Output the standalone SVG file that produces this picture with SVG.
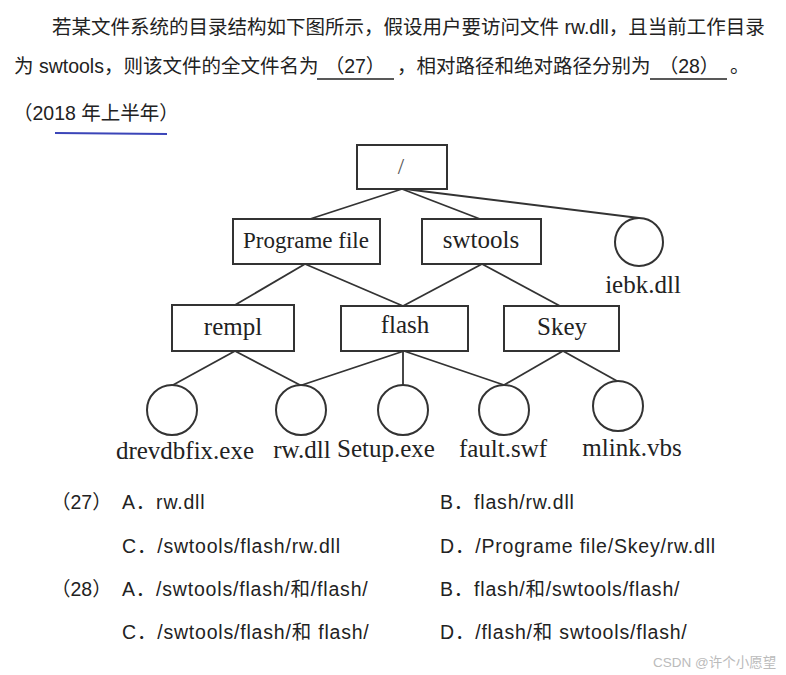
<svg xmlns="http://www.w3.org/2000/svg" width="786" height="675" viewBox="0 0 786 675">
  <style>
    .q { font-family: "Liberation Sans", "Noto Sans CJK SC", sans-serif; font-size: 19.5px; fill: #222; }
    .opt { font-family: "Liberation Sans", "Noto Sans CJK SC", sans-serif; font-size: 19.5px; fill: #222; letter-spacing: 0.8px; }
    .box { fill: #fff; stroke: #333; stroke-width: 2; }
    .leaf { fill: #fff; stroke: #333; stroke-width: 2; }
    .lbl { font-family: "Liberation Serif", "Times New Roman", serif; font-size: 25px; fill: #222; text-anchor: middle; }
    .conn line { stroke: #333; stroke-width: 1.8; }
    .ul { stroke: #222; stroke-width: 1.5; }
  </style>
  <rect width="786" height="675" fill="#fff"/>

  <!-- Question text -->
  <text class="q" x="52" y="34">若某文件系统的目录结构如下图所示，假设用户要访问文件 rw.dll，且当前工作目录</text>
  <text class="q" x="14" y="73">为 swtools，则该文件的全文件名为</text>
  <text class="q" x="355" y="73" text-anchor="middle">（27）</text>
  <line class="ul" x1="317" y1="79" x2="394" y2="79"/>
  <text class="q" x="397" y="73">，相对路径和绝对路径分别为</text>
  <text class="q" x="689" y="73" text-anchor="middle">（28）</text>
  <line class="ul" x1="650" y1="79" x2="727" y2="79"/>
  <text class="q" x="730" y="73">。</text>
  <text class="q" x="13" y="120">（2018 年上半年）</text>
  <line x1="55" y1="133" x2="167" y2="134" stroke="#3b45b8" stroke-width="2"/>

  <!-- Connectors -->
  <g id="connectors" class="conn">
    <line x1="402" y1="189" x2="310" y2="219"/>
    <line x1="402" y1="189" x2="480" y2="219"/>
    <line x1="405" y1="189" x2="639" y2="218"/>
    <line x1="305" y1="264" x2="235" y2="305"/>
    <line x1="305" y1="264" x2="403" y2="306"/>
    <line x1="482" y1="264" x2="403" y2="306"/>
    <line x1="482" y1="264" x2="560" y2="306"/>
    <line x1="235" y1="351" x2="173" y2="385"/>
    <line x1="235" y1="351" x2="300" y2="385"/>
    <line x1="404" y1="351" x2="302" y2="385"/>
    <line x1="403" y1="351" x2="403" y2="385"/>
    <line x1="404" y1="351" x2="504" y2="385"/>
    <line x1="563" y1="351" x2="504" y2="385"/>
    <line x1="563" y1="351" x2="617" y2="381"/>
  </g>

  <!-- Directory nodes -->
  <g id="root">
    <rect class="box" x="357" y="145" width="90" height="44"/>
    <text class="lbl" x="401" y="174" style="font-size:23px;fill:#555">/</text>
  </g>
  <g id="programe-file">
    <rect class="box" x="233" y="219" width="147" height="45"/>
    <text class="lbl" x="306" y="248" style="font-size:23px">Programe file</text>
  </g>
  <g id="swtools">
    <rect class="box" x="422" y="219" width="119" height="45"/>
    <text class="lbl" x="481" y="248">swtools</text>
  </g>
  <g id="iebk">
    <circle class="leaf" cx="639" cy="242" r="24"/>
    <text class="lbl" x="643" y="293">iebk.dll</text>
  </g>
  <g id="rempl">
    <rect class="box" x="172" y="305" width="122" height="46"/>
    <text class="lbl" x="233" y="335">rempl</text>
  </g>
  <g id="flash">
    <rect class="box" x="341" y="306" width="127" height="45"/>
    <text class="lbl" x="405" y="333">flash</text>
  </g>
  <g id="skey">
    <rect class="box" x="504" y="306" width="115" height="45"/>
    <text class="lbl" x="562" y="335">Skey</text>
  </g>

  <!-- File nodes -->
  <g id="drevdbfix">
    <circle class="leaf" cx="172" cy="410" r="25"/>
    <text class="lbl" x="185" y="459">drevdbfix.exe</text>
  </g>
  <g id="rwdll">
    <circle class="leaf" cx="301" cy="410" r="25"/>
    <text class="lbl" x="302" y="458">rw.dll</text>
  </g>
  <g id="setup">
    <circle class="leaf" cx="403" cy="410" r="25"/>
    <text class="lbl" x="386" y="457">Setup.exe</text>
  </g>
  <g id="fault">
    <circle class="leaf" cx="504" cy="410" r="25"/>
    <text class="lbl" x="503" y="457">fault.swf</text>
  </g>
  <g id="mlink">
    <circle class="leaf" cx="618" cy="406" r="25"/>
    <text class="lbl" x="632" y="456">mlink.vbs</text>
  </g>

  <!-- Options -->
  <text class="q" x="51" y="509">（27）</text>
  <text class="opt" x="122" y="509">A．rw.dll</text>
  <text class="opt" x="440" y="509">B．flash/rw.dll</text>
  <text class="opt" x="122" y="553">C．/swtools/flash/rw.dll</text>
  <text class="opt" x="440" y="553">D．/Programe file/Skey/rw.dll</text>
  <text class="q" x="51" y="596">（28）</text>
  <text class="opt" x="122" y="596">A．/swtools/flash/和/flash/</text>
  <text class="opt" x="440" y="596">B．flash/和/swtools/flash/</text>
  <text class="opt" x="122" y="639">C．/swtools/flash/和 flash/</text>
  <text class="opt" x="440" y="639">D．/flash/和 swtools/flash/</text>

  <!-- Watermark -->
  <text x="653" y="667" style="font-family:'Liberation Sans','Noto Sans CJK SC',sans-serif;font-size:13.5px;fill:#bbb">CSDN @许个小愿望</text>
</svg>
